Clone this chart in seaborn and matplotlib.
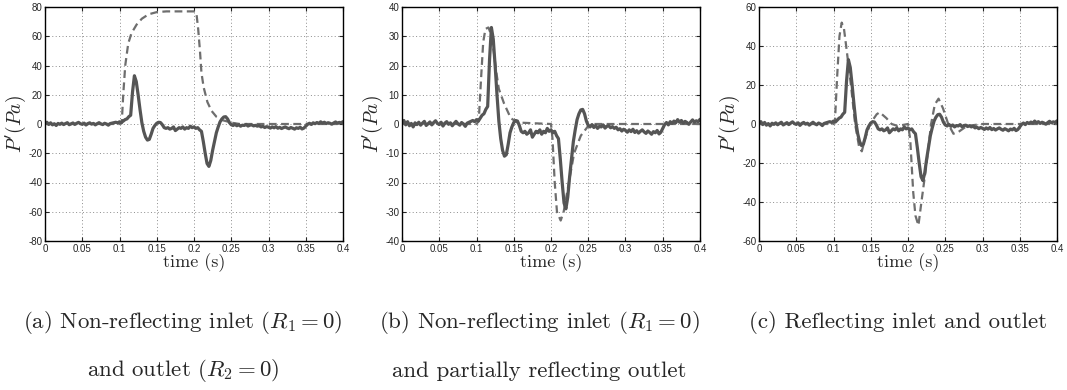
import numpy as np
import pandas as pd
import matplotlib
matplotlib.use("Agg")
import matplotlib.pyplot as plt
import seaborn as sns

# measured pressure (same signal in all three panels), sampled every 2.5 ms
t_meas = np.round(np.arange(0, 0.40001, 0.0025), 4)
p_meas = [
    0.5, 1.2, -0.3, 0.8, -0.6, 0.2, -1.0, 0.4, -0.2, 0.6,
    -0.4, 0.3, 0.9, -0.5, 0.1, 0.7, -0.3, 0.5, 1.1, 0.2,
    -0.2, 0.6, -0.7, 0.3, 0.8, -0.1, 0.4, -0.6, 0.2, 0.9,
    0.1, -0.4, 0.5, 0.0, -0.8, 0.3, 0.6, 0.9, 1.2, 0.8,
    1.5, 1.0, 2.0, 3.0, 3.5, 5.0, 6.0, 22.0, 33.0, 29.0,
    20.0, 10.0, 1.0, -5.0, -9.0, -11.0, -10.5, -7.0, -3.0, -1.0,
    0.5, 1.2, 1.0, -0.5, -2.5, -3.0, -2.5, -3.5, -3.0, -2.0,
    -4.5, -3.5, -2.5, -3.0, -2.0, -3.5, -2.5, -3.0, -1.5, -2.5,
    -2.0, -3.0, -2.5, -4.0, -5.0, -12.0, -20.0, -27.0, -29.0, -25.0,
    -18.0, -12.0, -6.0, -2.0, 1.5, 3.5, 4.8, 5.0, 3.5, 1.0,
    -0.5, -1.0, -0.2, -1.2, -0.5, -1.5, -0.8, -1.0, -0.3, -1.4,
    -0.8, -0.6, -1.3, -0.9, -1.5, -1.1, -2.0, -1.6, -2.4, -1.8,
    -2.2, -2.8, -2.0, -2.6, -1.8, -2.9, -2.3, -3.1, -2.5, -2.0,
    -2.7, -3.2, -2.4, -2.9, -3.5, -2.6, -3.0, -2.2, -3.4, -2.8,
    -1.5, -0.2, 0.5, -0.3, 0.8, 0.2, 1.0, 0.4, 1.5, 0.6,
    1.2, 0.3, 0.9, 0.5, -0.1, 0.7, 1.4, 0.6, 1.1, 0.8,
    1.6,
]

# simulated pressure, panel (a)
t_sim_a = [0.0, 0.1, 0.103, 0.105, 0.1077, 0.1117, 0.116, 0.123, 0.130, 0.139,
           0.150, 0.163, 0.201, 0.2034, 0.2056, 0.208, 0.210, 0.213, 0.218,
           0.2235, 0.230, 0.239, 0.2525, 0.2615, 0.4]
p_sim_a = [0.0, 0.0, 0.5, 20.0, 40.0, 55.0, 62.0, 68.0, 72.0, 75.0,
           76.5, 77.0, 77.0, 75.0, 65.0, 50.0, 35.0, 25.0, 15.0,
           9.0, 5.0, 2.5, 0.7, 0.0, 0.0]

# simulated pressure, panel (b)
t_sim_b = [0.0, 0.1, 0.103, 0.106, 0.109, 0.112, 0.116, 0.119, 0.123, 0.127,
           0.130, 0.137, 0.146, 0.155, 0.2, 0.202, 0.205, 0.208, 0.213,
           0.217, 0.224, 0.231, 0.240, 0.249, 0.256, 0.4]
p_sim_b = [0.0, 0.0, 1.0, 15.0, 28.0, 32.5, 33.0, 31.0, 25.0, 17.0,
           12.0, 7.0, 2.0, 0.5, 0.0, -5.0, -20.0, -30.0, -33.0,
           -30.0, -20.0, -10.0, -4.0, -1.0, 0.0, 0.0]

# simulated pressure, panel (c)
t_sim_c = [0.0, 0.1, 0.102, 0.105, 0.108, 0.111, 0.114, 0.117, 0.124, 0.129,
           0.1345, 0.138, 0.142, 0.149, 0.158, 0.162, 0.171, 0.178, 0.186,
           0.2, 0.203, 0.207, 0.210, 0.214, 0.218, 0.225, 0.231, 0.236,
           0.241, 0.247, 0.254, 0.261, 0.268, 0.279, 0.30, 0.4]
p_sim_c = [0.0, 0.0, 2.0, 25.0, 45.0, 52.0, 49.0, 40.0, 18.0, 0.0,
           -12.0, -14.0, -8.0, 0.0, 5.0, 6.0, 3.0, 0.0, -1.0,
           0.0, -8.0, -35.0, -47.0, -52.0, -40.0, -20.0, 0.0, 10.0,
           13.0, 8.0, 0.0, -5.0, -4.0, -1.0, 0.0, 0.0]

sim_t = [t_sim_a, t_sim_b, t_sim_c]
sim_p = [p_sim_a, p_sim_b, p_sim_c]
ylims = [(-80, 80), (-40, 40), (-60, 60)]
ysteps = [20, 10, 20]
xticks = [0, 0.05, 0.1, 0.15, 0.2, 0.25, 0.3, 0.35, 0.4]
xticklabels = ["0", "0.05", "0.1", "0.15", "0.2", "0.25", "0.3", "0.35", "0.4"]
captions = [
    ["(a) Non-reflecting inlet ($R_1 = 0$)", "and outlet ($R_2 = 0$)"],
    ["(b) Non-reflecting inlet ($R_1 = 0$)", "and partially reflecting outlet"],
    ["(c) Reflecting inlet and outlet"],
]

sns.set_style("ticks")
plt.rcParams["font.family"] = ["Liberation Sans", "DejaVu Sans"]
plt.rcParams["mathtext.fontset"] = "cm"
plt.rcParams["axes.unicode_minus"] = False

fig = plt.figure(figsize=(10.67, 3.90), dpi=100)
lefts = [45, 402, 759]
cap_x = [183, 539, 898]

for i in range(3):
    ax = fig.add_axes([lefts[i] / 1067, (390 - 241) / 390, 298 / 1067, 234 / 390])
    sns.lineplot(x=sim_t[i], y=sim_p[i], ax=ax, color="#6e6e6e", linewidth=1.6,
                 linestyle=(0, (3.5, 2.0)))
    sns.lineplot(x=t_meas, y=p_meas, ax=ax, color="#555555", linewidth=2.3)
    ax.set_xlim(0, 0.4)
    ax.set_ylim(*ylims[i])
    ax.set_xticks(xticks)
    ax.set_xticklabels(xticklabels)
    lo, hi = ylims[i]
    yt = list(range(lo, hi + 1, ysteps[i]))
    ax.set_yticks(yt)
    ax.set_yticklabels([str(v) for v in yt])
    ax.tick_params(direction="in", length=3, width=0.8, labelsize=7, pad=2,
                   top=True, right=True)
    ax.grid(True, linestyle=(0, (1, 2.5)), color="#8c8c8c", linewidth=0.7)
    for s in ax.spines.values():
        s.set_linewidth(1.0)
        s.set_color("black")
    ax.set_xlabel("time (s)", family="cmr10", fontsize=13, labelpad=0)
    ax.set_ylabel("$P'(Pa)$", fontsize=14, labelpad=0)

    for k, line in enumerate(captions[i]):
        y = 322 if k == 0 else 371
        fig.text(cap_x[i] / 1067, 1 - y / 390, line, family="cmr10", fontsize=16.5,
                 ha="center", va="center")

fig.savefig("out.png", dpi=100)
